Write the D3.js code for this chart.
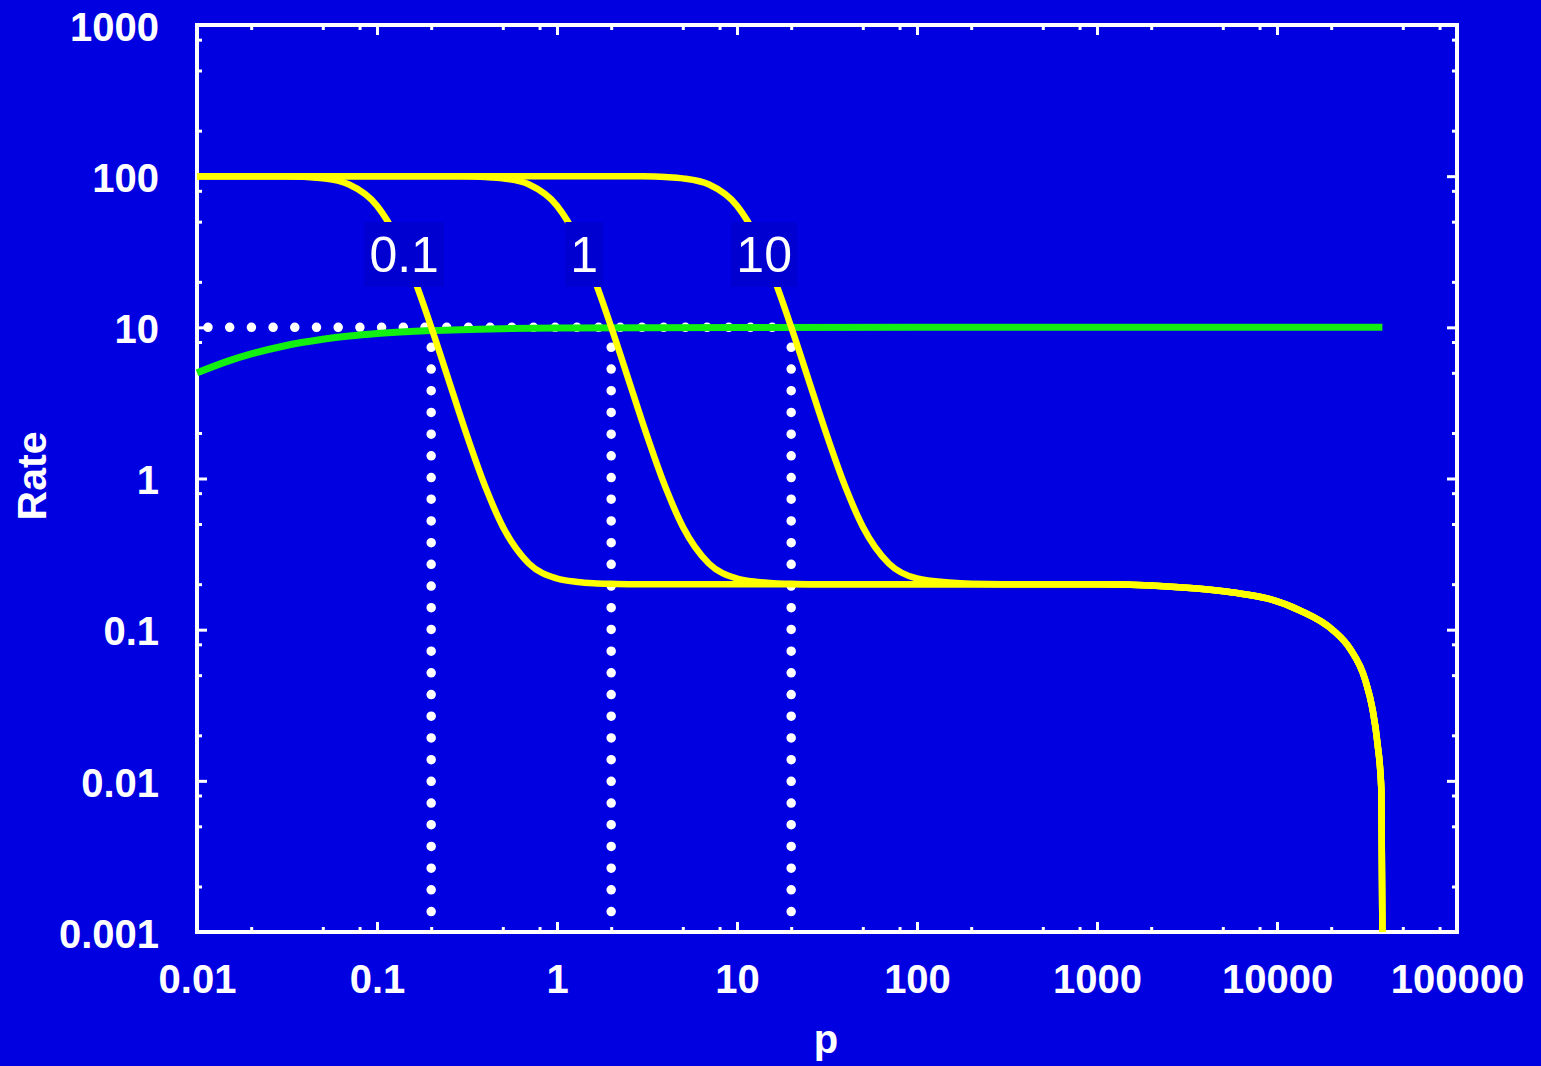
<!DOCTYPE html>
<html>
<head>
<meta charset="utf-8">
<script src="https://cdn.jsdelivr.net/npm/d3@7"></script>
<style>
html,body{margin:0;padding:0;background:rgb(0,0,225);}
svg{display:block;}
</style>
</head>
<body>
<svg id="chart" width="1541" height="1066"></svg>
<script>
// ---- data ----
const pGrid = [0.01,0.02,0.03,0.05,0.07,0.1,0.13,0.16,0.2,0.25,0.3,0.4,0.5,0.7,1,1.3,1.6,2,2.5,3,4,5,7,10,13,16,20,25,30,40,50,70,100,150,200,300,500,1000,2000,3600,5700,8800,13400,20500,25400,31000,33900,36100,38000,38500];
const tail = [0.2,0.196,0.187,0.176,0.161,0.134,0.099,0.075,0.046,0.030,0.018,0.0087,0.001];
const rateA = [100,99.9,99.7,96.7,88.1,63.8,38.2,21.3,10.05,4.49,2.31,0.88,0.48,0.273,0.218,0.207,0.203,0.201,0.2,0.2,0.2,0.2,0.2,0.2,0.2,0.2,0.2,0.2,0.2,0.2,0.2,0.2,0.2,0.2,0.2,0.2,0.2].concat(tail);
const rateB = [100,100,100,100,100,100,100,100,99.9,99.8,99.7,98.7,96.7,88.1,63.8,38.2,21.3,10.05,4.49,2.31,0.88,0.48,0.273,0.218,0.207,0.203,0.201,0.2,0.2,0.2,0.2,0.2,0.2,0.2,0.2,0.2,0.2].concat(tail);
const rateC = [100,100,100,100,100,100,100,100,100,100,100,100,100,100,100,100,100,99.9,99.8,99.7,98.7,96.7,88.1,63.8,38.2,21.3,10.05,4.49,2.31,0.88,0.48,0.273,0.218,0.205,0.201,0.2,0.2].concat(tail);
const curveLabels = ["0.1","1","10"];
const thresholds = [0.2, 2, 20];
const refRate = 10;
const greenP = [0.01,0.015,0.02,0.03,0.05,0.07,0.1,0.2,0.5,1,10,100,1000,38500];
const greenRate = [5,6,6.67,7.5,8.33,8.75,9.09,9.52,9.8,9.9,9.99,10,10,10];
const xMajor = [0.01,0.1,1,10,100,1000,10000,100000];
const yMajor = [0.001,0.01,0.1,1,10,100,1000];
const minorMult = [2,5,8];
const xTitle = "p", yTitle = "Rate";

// ---- layout ----
const svg = d3.select("#chart");
const L = 197, R = 1457, T = 25, B = 932;
const x = d3.scaleLog().domain([0.01, 100000]).range([L, R]);
const y = d3.scaleLog().domain([0.001, 1000]).range([B, T]);
const BG = "rgb(0,0,225)";
svg.append("rect").attr("width",1541).attr("height",1066).attr("fill",BG);

const minors = (majors) => {
  const out = [];
  majors.slice(0,-1).forEach(m => minorMult.forEach(k => out.push(m*k)));
  return out;
};
const xMinor = minors(xMajor), yMinor = minors(yMajor);
const fontTick = "bold 40px 'Liberation Sans', Arial, sans-serif";

function styleAxis(g){
  g.select(".domain").remove();
  g.selectAll(".tick line").attr("stroke","#fff").attr("stroke-width",3);
  g.selectAll("text").attr("fill","#fff").style("font",fontTick);
}
// bottom
svg.append("g").attr("transform",`translate(0,${B})`)
  .call(d3.axisBottom(x).tickValues(xMajor).tickSize(-10).tickPadding(33).tickFormat(d=>String(d)))
  .call(styleAxis);
svg.append("g").attr("transform",`translate(0,${B})`)
  .call(d3.axisBottom(x).tickValues(xMinor).tickSize(-5).tickFormat(""))
  .call(styleAxis);
// top
svg.append("g").attr("transform",`translate(0,${T})`)
  .call(d3.axisTop(x).tickValues(xMajor).tickSize(-10).tickFormat(""))
  .call(styleAxis);
svg.append("g").attr("transform",`translate(0,${T})`)
  .call(d3.axisTop(x).tickValues(xMinor).tickSize(-5).tickFormat(""))
  .call(styleAxis);
// left
svg.append("g").attr("transform",`translate(${L},0)`)
  .call(d3.axisLeft(y).tickValues(yMajor).tickSize(-10).tickPadding(38).tickFormat(d=>String(d)))
  .call(styleAxis)
  .selectAll("text").attr("dy","0.38em");
svg.append("g").attr("transform",`translate(${L},0)`)
  .call(d3.axisLeft(y).tickValues(yMinor).tickSize(-5).tickFormat(""))
  .call(styleAxis);
// right
svg.append("g").attr("transform",`translate(${R},0)`)
  .call(d3.axisRight(y).tickValues(yMajor).tickSize(-10).tickFormat(""))
  .call(styleAxis);
svg.append("g").attr("transform",`translate(${R},0)`)
  .call(d3.axisRight(y).tickValues(yMinor).tickSize(-5).tickFormat(""))
  .call(styleAxis);

// frame
svg.append("rect").attr("x",L).attr("y",T).attr("width",R-L).attr("height",B-T)
  .attr("fill","none").attr("stroke","#fff").attr("stroke-width",4);

// axis titles
svg.append("text").attr("x",826).attr("y",1053).attr("text-anchor","middle")
  .attr("fill","#fff").style("font","bold 40px 'Liberation Sans', Arial, sans-serif").text(xTitle);
svg.append("text").attr("transform","translate(46,476) rotate(-90)").attr("text-anchor","middle")
  .attr("fill","#fff").style("font","bold 41px 'Liberation Sans', Arial, sans-serif").text(yTitle);

// dotted reference lines
const dots = svg.append("g").attr("stroke","#fff").attr("stroke-width",9.5)
  .attr("stroke-linecap","round").attr("stroke-dasharray","0,21.7").attr("fill","none");
dots.append("line").attr("x1",x(0.01)).attr("x2",x(thresholds[thresholds.length-1]))
  .attr("y1",y(refRate)).attr("y2",y(refRate)).attr("stroke-dashoffset",-11);
thresholds.forEach(t => {
  dots.append("line").attr("x1",x(t)).attr("x2",x(t))
    .attr("y1",y(refRate)+20).attr("y2",y(0.001));
});

// green curve
const line = d3.line().x(d=>x(d[0])).y(d=>y(d[1])).curve(d3.curveMonotoneX);
svg.append("path").datum(greenP.map((p,i)=>[p,greenRate[i]]))
  .attr("d",line).attr("fill","none").attr("stroke","#12f012").attr("stroke-width",7);

// yellow curves
[rateA, rateB, rateC].forEach(r => {
  svg.append("path").datum(pGrid.map((p,i)=>[p,r[i]]))
    .attr("d",line).attr("fill","none").attr("stroke","#ffff00").attr("stroke-width",6.5)
    .attr("stroke-linejoin","round");
});

// curve labels with boxes
const labY = 272;
curveLabels.forEach((lab,i) => {
  const cx = x(thresholds[i]) - 27;
  const g = svg.append("g");
  const t = g.append("text").attr("x",cx).attr("y",labY).attr("text-anchor","middle")
    .attr("fill","#fff").style("font","50px 'Liberation Sans', Arial, sans-serif").text(lab);
  const bb = t.node().getBBox();
  g.insert("rect","text").attr("x",bb.x-5).attr("y",labY-50).attr("width",bb.width+10).attr("height",65)
    .attr("fill","rgb(0,0,208)");
});
</script>
</body>
</html>
